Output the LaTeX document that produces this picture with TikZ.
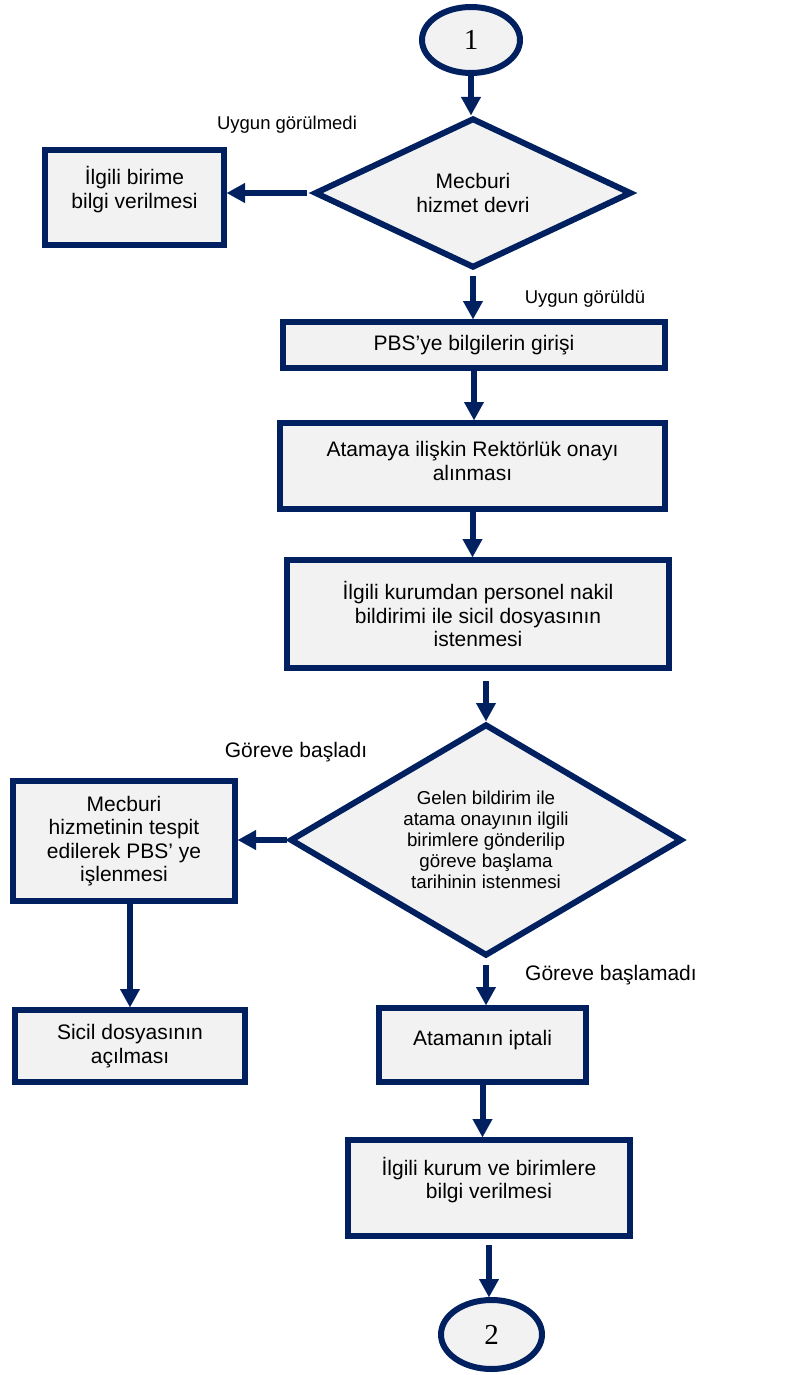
\documentclass[tikz,border=0pt]{standalone}
\usepackage{fontspec}
\setmainfont{Liberation Sans}
\newfontfamily\numfont{Liberation Serif}
\usetikzlibrary{shapes.geometric,arrows.meta}
\definecolor{lacivert}{HTML}{002060}
\definecolor{acikgri}{HTML}{F2F2F2}

\begin{document}
\begin{tikzpicture}[x=1pt, y=-1pt,
    every node/.style={font=\fontsize{21}{23.5}\selectfont, align=center, inner sep=0pt},
    kutu/.style={draw=lacivert, fill=acikgri, line width=6pt, rectangle},
    karar/.style={draw=lacivert, fill=acikgri, line width=6pt, diamond},
    bag/.style={draw=lacivert, fill=acikgri, line width=6pt, ellipse, font=\numfont\fontsize{29}{30}\selectfont},
    etiket/.style={font=\fontsize{18.5}{22}\selectfont},
    ok/.style={lacivert, line width=6pt, -{Triangle[width=20pt, length=18pt, line width=0.1pt]}}]
                        \useasboundingbox (0,0) rectangle (803,1375);

                        \node[bag, minimum width=98, minimum height=66] (bas) at (471,40) {1};
                        \node[karar, minimum width=317, minimum height=150, aspect=2.1] (karar1) at (473,193) {Mecburi\\hizmet devri};
                        \node[kutu, minimum width=179, minimum height=95, text depth=20.4pt] (birim) at (134.5,197.5) {İlgili birime\\bilgi verilmesi};
                        \node[kutu, minimum width=382, minimum height=46] (pbs) at (474,345) {PBS’ye bilgilerin girişi};
                        \node[kutu, minimum width=385, minimum height=86, text depth=10pt] (onay) at (472.5,466) {Atamaya ilişkin Rektörlük onayı\\alınması};
                        \node[kutu, minimum width=382, minimum height=108] (nakil) at (478,614) {İlgili kurumdan personel nakil\\bildirimi ile sicil dosyasının\\istenmesi};
                        \node[karar, minimum width=392, minimum height=232, aspect=1.7, font=\fontsize{18.7}{21}\selectfont] (karar2) at (486,840) {Gelen bildirim ile\\atama onayının ilgili\\birimlere gönderilip\\göreve başlama\\tarihinin istenmesi};
                        \node[kutu, minimum width=222, minimum height=120] (tespit) at (124,841) {Mecburi\\hizmetinin tespit\\edilerek PBS’ ye\\işlenmesi};
                        \node[kutu, minimum width=230, minimum height=72] (sicil) at (130,1046) {Sicil dosyasının\\açılması};
                        \node[kutu, minimum width=207, minimum height=74, text depth=14.4pt] (iptal) at (482.5,1045) {Atamanın iptali};
                        \node[kutu, minimum width=282, minimum height=96, text depth=20.4pt] (kurum) at (489,1188) {İlgili kurum ve birimlere\\bilgi verilmesi};
                        \node[bag, minimum width=101, minimum height=69] (son) at (491.5,1334.5) {2};

                        \node[etiket] (ret) at (287,125) {Uygun görülmedi};
                        \node[etiket] (kabul) at (585,299) {Uygun görüldü};
                        \node (basladi) at (296,752) {Göreve başladı};
                        \node (baslamadi) at (611,975) {Göreve başlamadı};

                        \draw[ok] (bas.south) -- (bas.south |- karar1.north);
                        \draw[ok, shorten <=5pt] (karar1.west) -- (karar1.west -| birim.east);
                        \draw[ok, shorten <=5pt] (karar1.south) -- (karar1.south |- pbs.north);
                        \draw[ok] (pbs.south) -- (pbs.south |- onay.north);
                        \draw[ok] (onay.south) -- (onay.south |- nakil.north);
                        \draw[ok, shorten <=10pt] (nakil.south -| karar2) -- (karar2.north);
                        \draw[ok] (karar2.west) -- (karar2.west -| tespit.east);
                        \draw[ok] (tespit.south -| sicil) -- (sicil.north);
                        \draw[ok, shorten <=6pt] (karar2.south) -- (karar2.south |- iptal.north);
                        \draw[ok] (iptal.south) -- (iptal.south |- kurum.north);
                        \draw[ok, shorten <=6pt] (kurum.south) -- (kurum.south |- son.north);
                    \end{tikzpicture}
\end{document}
